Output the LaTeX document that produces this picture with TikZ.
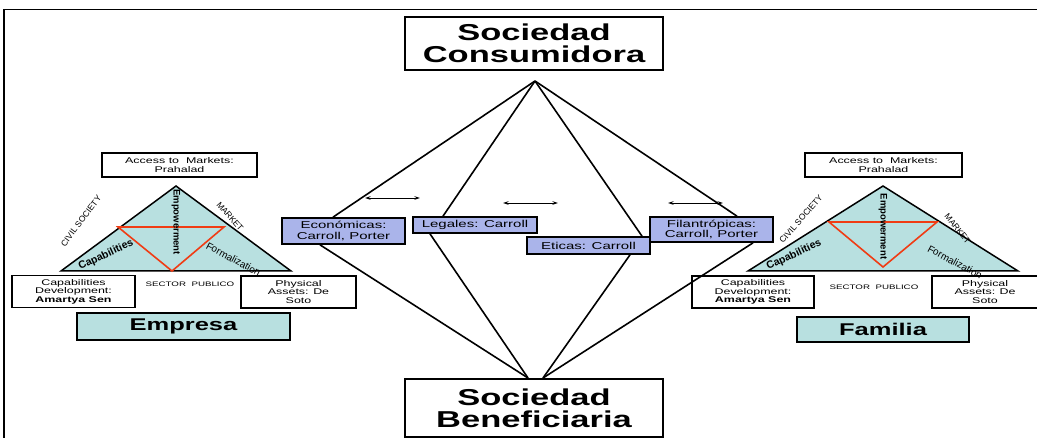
\documentclass[tikz,border=0pt]{standalone}
\usepackage{fontspec}
\setmainfont{Liberation Sans}[FakeStretch=1.5]
\newfontfamily\plainsf{Liberation Sans}
\usetikzlibrary{arrows.meta,calc}
\definecolor{tealfill}{HTML}{B8E0E0}
\definecolor{bluefill}{HTML}{AAB4EA}
\definecolor{redline}{HTML}{F03C14}

\tikzset{
  titlebox/.style={draw, line width=1.7pt, fill=white, inner sep=0pt, align=center,
    minimum width=258, font=\bfseries\fontsize{23}{22}\selectfont},
  bluebox/.style={draw, line width=1.7pt, fill=bluefill, inner sep=0pt, align=center,
    font=\fontsize{10}{10.5}\selectfont},
  smallbox/.style={draw, line width=1.5pt, fill=white, inner sep=0pt, align=center,
    font=\fontsize{8.3}{8.6}\selectfont},
  namebox/.style={draw, line width=1.7pt, fill=tealfill, inner sep=0pt,
    font=\bfseries\fontsize{17}{17}\selectfont},
  tri/.style={draw, line width=1.5pt, fill=tealfill},
  redtri/.style={draw=redline, line width=1.6pt},
  link/.style={line width=1.6pt},
  twoway/.style={line width=0.9pt, {Stealth[length=5.5pt,width=3.5pt]}-{Stealth[length=5.5pt,width=3.5pt]}},
  sidelabel/.style={inner sep=0pt, font=\plainsf\fontsize{8.5}{8.5}\selectfont},
  innerlabel/.style={inner sep=0pt, font=\plainsf\fontsize{10}{10}\selectfont},
  vlabel/.style={inner sep=0pt, rotate=-90, font=\plainsf\bfseries\fontsize{9.5}{9.5}\selectfont},
  sector/.style={inner sep=0pt, font=\fontsize{6.5}{6.5}\selectfont},
  frame/.style={line width=1.5pt}
}

\begin{document}
\begin{tikzpicture}[x=1pt, y=-1pt]
\useasboundingbox (0,0) rectangle (1037,438);

% outer frame
\coordinate (fbl) at (4,440);
\coordinate (ftl) at (4,9.5);
\coordinate (ftr) at (1040,9.5);
\draw[frame] (fbl) -- (ftl) -- (ftr);

% ---------- left group: Empresa ----------
\coordinate (l1a) at (176,186);
\coordinate (l1b) at (61,271);
\coordinate (l1c) at (291,271);
\draw[tri] (l1a) -- (l1b) -- (l1c) -- cycle;
\coordinate (r1a) at (118,227);
\coordinate (r1b) at (224,227);
\coordinate (r1c) at (172,271);
\draw[redtri] (r1a) -- (r1b) -- (r1c) -- cycle;

\node[smallbox, minimum width=155, minimum height=24] (acc1) at (179.5,165)
  {Access to\ \ Markets:\\Prahalad};
\node[smallbox, minimum width=123, minimum height=32] (cap1) at (73.5,291.5)
  {Capabilities\\Development:\\\textbf{Amartya Sen}};
\node[smallbox, minimum width=115, minimum height=32] (phy1) at (298.5,292)
  {Physical\\Assets: De\\Soto};
\node[namebox, minimum width=213, minimum height=27] (emp) at (183.5,326.5) {Empresa};

\node[sidelabel, rotate=53] (civ1) at (81,221) {CIVIL SOCIETY};
\node[sidelabel, rotate=-49] (mkt1) at (230,216.5) {MARKET};
\node[innerlabel, font=\plainsf\bfseries\fontsize{10.5}{10.5}\selectfont, rotate=25] (cb1) at (106,255) {Capabilities};
\node[innerlabel, rotate=-28] (fm1) at (233.5,259) {Formalization};
\node[vlabel] (ep1) at (176,222) {Empowerment};
\node[sector] (sp1) at (190,284) {SECTOR\ \ PUBLICO};

% ---------- right group: Familia ----------
\coordinate (l2a) at (883,186);
\coordinate (l2b) at (748,271);
\coordinate (l2c) at (1018,271);
\draw[tri] (l2a) -- (l2b) -- (l2c) -- cycle;
\coordinate (r2a) at (829,222);
\coordinate (r2b) at (937,222);
\coordinate (r2c) at (883,267);
\draw[redtri] (r2a) -- (r2b) -- (r2c) -- cycle;

\node[smallbox, minimum width=157, minimum height=24] (acc2) at (883.5,165)
  {Access to\ \ Markets:\\Prahalad};
\node[smallbox, minimum width=122, minimum height=32] (cap2) at (753,292)
  {Capabilities\\Development:\\\textbf{Amartya Sen}};
\node[smallbox, minimum width=118, minimum height=32, text width=105] (phy2) at (991,292)
  {\hspace*{-12pt}Physical\\\hspace*{-12pt}Assets: De\\\hspace*{-12pt}Soto};
\node[namebox, minimum width=172, minimum height=25] (fam) at (883,329.5) {Familia};

\node[sidelabel, rotate=49] (civ2) at (801,219) {CIVIL SOCIETY};
\node[sidelabel, rotate=-51] (mkt2) at (957.5,228.5) {MARKET};
\node[innerlabel, font=\plainsf\bfseries\fontsize{10.5}{10.5}\selectfont, rotate=25] (cb2) at (794,255) {Capabilities};
\node[innerlabel, rotate=-28] (fm2) at (955,262) {Formalization};
\node[vlabel] (ep2) at (883,226.5) {Empowerment};
\node[sector] (sp2) at (874,287) {SECTOR\ \ PUBLICO};

% ---------- centre: society boxes and responsibility boxes ----------
\node[titlebox, minimum height=53] (cons) at (534,43.5) {Sociedad\\Consumidora};
\node[titlebox, minimum height=58] (bene) at (534,408) {Sociedad\\Beneficiaria};

\node[bluebox, minimum width=123, minimum height=26] (eco) at (343.5,231) {Económicas:\\Carroll, Porter};
\node[bluebox, minimum width=124, minimum height=16] (leg) at (475,225) {Legales: Carroll};
\node[bluebox, minimum width=123, minimum height=25] (fil) at (711.5,229.5) {Filantrópicas:\\Carroll, Porter};
\node[bluebox, minimum width=123, minimum height=17] (eti) at (588.5,245.5) {Eticas: Carroll};

% meeting points of the links
\coordinate (top) at (535,81);
\coordinate (botl) at (528,378);
\coordinate (botr) at (543,378);

\draw[link] (top) -- ([xshift=-10.5]eco.north);
\draw[link] (top) -- ([xshift=-32]leg.north);
\draw[link] (top) -- ([xshift=53.5]eti.north);
\draw[link] (top) -- ([xshift=25.5]fil.north);
\draw[link] ([xshift=-23.5]eco.south) -- (botl);
\draw[link] ([xshift=-45]leg.south) -- (botl);
\draw[link] ([xshift=41.5]eti.south) -- (botr);
\draw[link] ([xshift=41.5]fil.south) -- (botr);

% two-way arrows between the dimensions
\coordinate (a1l) at (365,198);
\coordinate (a1r) at (420,198);
\coordinate (a2l) at (503,203);
\coordinate (a2r) at (558,203);
\coordinate (a3l) at (668,203);
\coordinate (a3r) at (723,203);
\draw[twoway] (a1l) -- (a1r);
\draw[twoway] (a2l) -- (a2r);
\draw[twoway] (a3l) -- (a3r);
\end{tikzpicture}
\end{document}
